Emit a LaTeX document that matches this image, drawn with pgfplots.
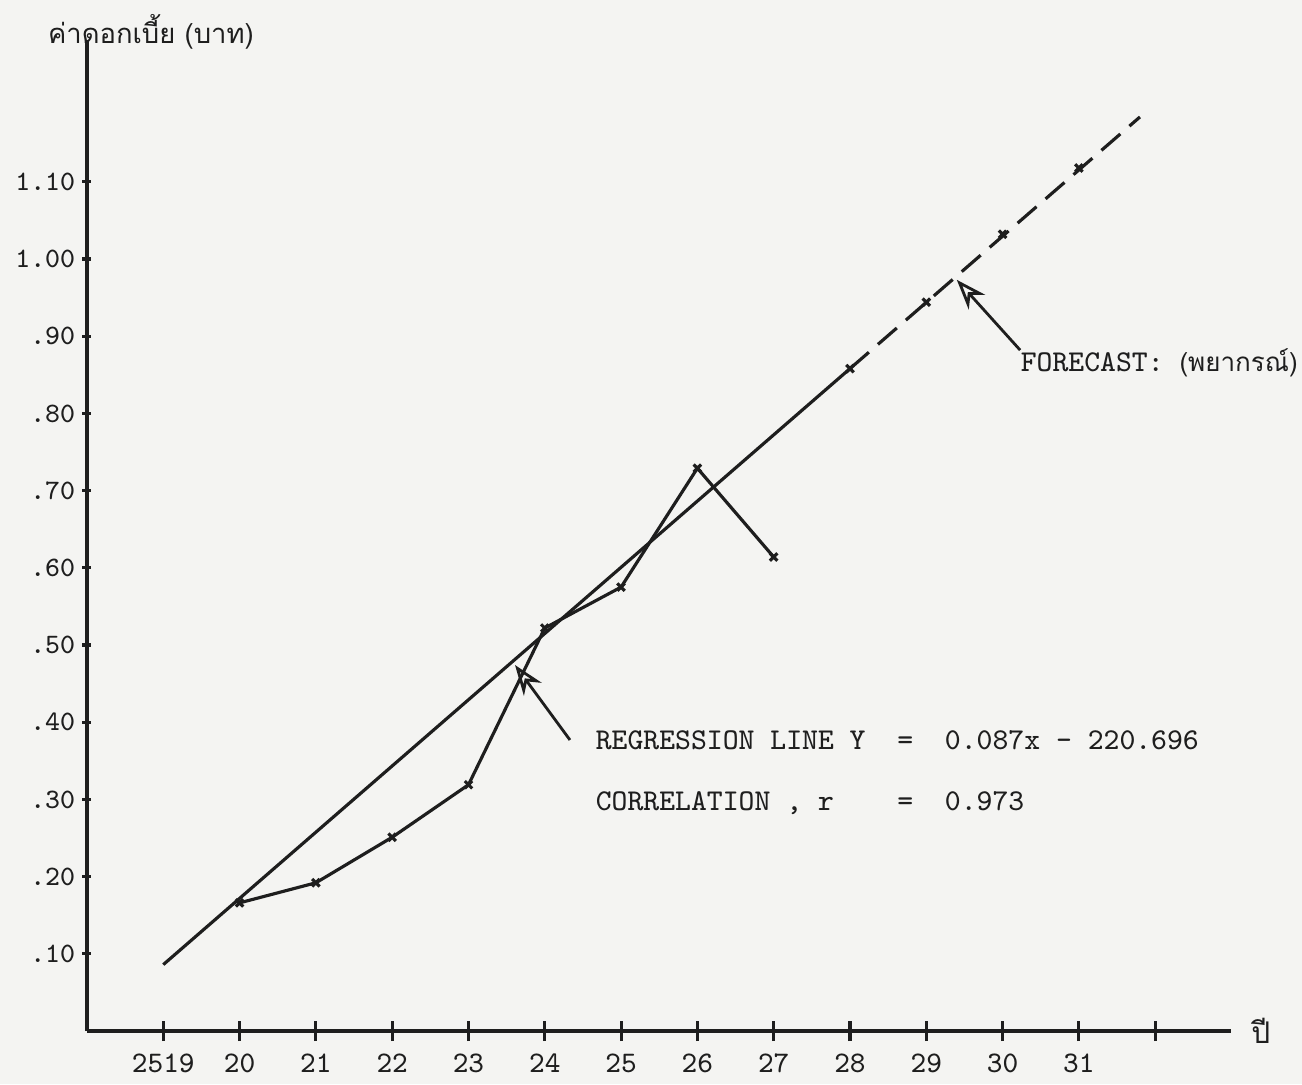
\documentclass[border=0pt]{standalone}
\usepackage{fontspec}
\usepackage{pgfplots}
\pgfplotsset{compat=1.18}
\usetikzlibrary{arrows.meta,backgrounds}
\newfontfamily\thaifont[Script=Thai]{Loma}
\definecolor{ink}{HTML}{1E1E1E}
\definecolor{paper}{HTML}{F4F4F2}

\pgfplotstableread{
x y
2520 0.166
2521 0.192
2522 0.251
2523 0.319
2524 0.522
2525 0.575
2526 0.729
2527 0.614
}\actualdata

\pgfplotstableread{
x y
2519 0.086
2528 0.858
}\regsolid

\pgfplotstableread{
x y
2528 0.858
2531.8 1.184
}\regdash

\pgfplotstableread{
x y
2528 0.858
2529 0.944
2530 1.032
2531 1.118
}\forecast

\begin{document}
\begin{tikzpicture}
\begin{axis}[
  at={(0,0)}, anchor=south west,
  x=0.763cm, y=7.72cm,
  xmin=2518, xmax=2533, ymin=0, ymax=1.284,
  enlargelimits=false,
  axis x line=bottom, axis y line=left,
  axis line style={-, line width=0.9pt, ink},
  clip=false,
  tick align=center,
  xtick={2519,2520,2521,2522,2523,2524,2525,2526,2527,2528,2529,2530,2531,2532},
  xticklabels={2519,20,21,22,23,24,25,26,27,28,29,30,31,{}},
  ytick={0.1,0.2,0.3,0.4,0.5,0.6,0.7,0.8,0.9,1.0,1.1},
  yticklabels={.10,.20,.30,.40,.50,.60,.70,.80,.90,1.00,1.10},
  xtick style={/pgfplots/major tick length=0.2cm, line width=0.9pt, ink},
  ytick style={/pgfplots/major tick length=0.09cm, line width=0.9pt, ink},
  xticklabel style={font=\fontsize{8.5}{10}\selectfont\ttfamily, text=ink, yshift=-0.03cm},
  yticklabel style={font=\fontsize{8}{10}\selectfont\ttfamily, text=ink, xshift=0.08cm},
]
\coordinate (bl) at (axis cs:2516.860,-0.0687);
\coordinate (tr) at (axis cs:2533.924,1.3355);
\addplot[ink, line width=0.9pt, mark=x, mark size=1.5pt, mark options={solid, line width=0.9pt}] table {\actualdata};
\addplot[ink, line width=0.9pt] table {\regsolid};
\addplot[ink, line width=0.9pt, dash pattern=on 0.25cm off 0.12cm] table {\regdash};
\addplot[ink, only marks, mark=x, mark size=1.5pt, mark options={line width=0.9pt}] table {\forecast};
% annotation arrows
\draw[ink, line width=0.8pt, -{Stealth[open, length=3mm, width=2.2mm]}] (axis cs:2524.33,0.377) -- (axis cs:2523.61,0.474);
\draw[ink, line width=0.8pt, -{Stealth[open, length=3mm, width=2.2mm]}] (axis cs:2530.23,0.882) -- (axis cs:2529.40,0.973);
% texts
\node[anchor=west, inner sep=0pt, text=ink, font=\fontsize{8.6}{10}\selectfont\ttfamily] at (axis cs:2524.66,0.377) {REGRESSION~LINE~Y~~=~~0.087x~-~220.696};
\node[anchor=west, inner sep=0pt, text=ink, font=\fontsize{8.6}{10}\selectfont\ttfamily] at (axis cs:2524.66,0.295) {CORRELATION~,~r~~~~=~~0.973};
\node[anchor=west, inner sep=0pt, text=ink, font=\fontsize{8.6}{10}\selectfont\ttfamily] at (axis cs:2530.23,0.865) {FORECAST:~{\fontsize{7.4}{9}\selectfont\thaifont (พยากรณ์)}};
\node[anchor=west, inner sep=0pt, text=ink, font=\fontsize{7.8}{10}\selectfont\thaifont] at (axis cs:2517.48,1.294) {ค่าดอกเบี้ย (บาท)};
\node[anchor=west, inner sep=0pt, text=ink, font=\fontsize{8.5}{10}\selectfont\thaifont] at (axis cs:2533.25,0) {ปี};
\end{axis}
\pgfresetboundingbox
\useasboundingbox (bl) rectangle (tr);
\begin{scope}[on background layer]
\fill[paper] (bl) rectangle (tr);
\end{scope}
\end{tikzpicture}
\end{document}
